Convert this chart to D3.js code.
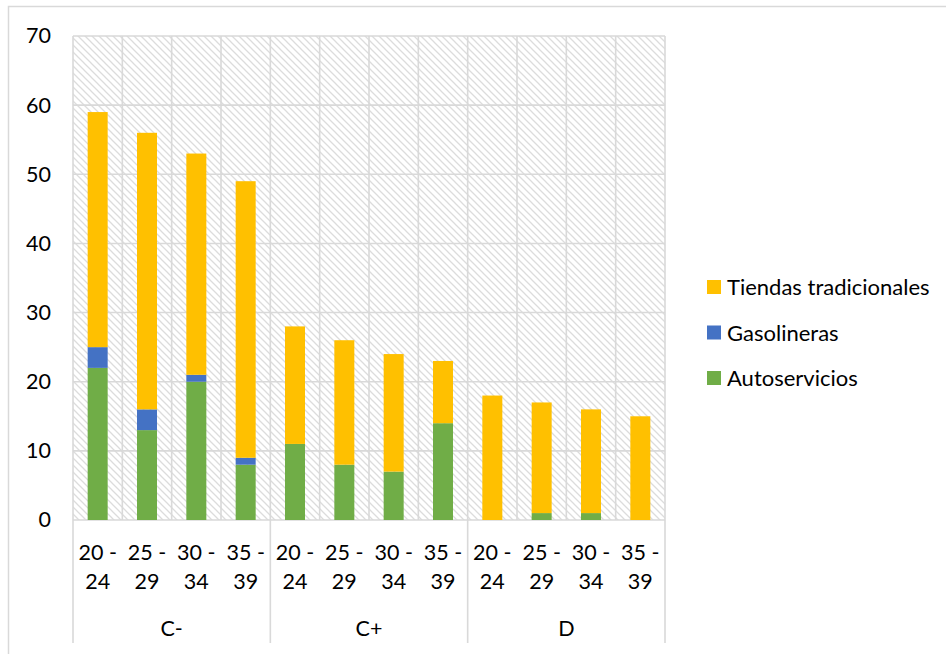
<!DOCTYPE html>
<meta charset="utf-8">
<style>
body { margin: 0; background: #fff; }
text { font-family: Lato, "Open Sans", sans-serif; fill: #000; }
.grid line { stroke: #d9d9d9; stroke-width: 1.6px; }
</style>
<body><svg width="946" height="654"></svg></body>
<script src="https://d3js.org/d3.v7.min.js"></script>
<script>

var groups = ["C-", "C+", "D"];
var ages = ["20 - 24", "25 - 29", "30 - 34", "35 - 39"];
var seriesNames = ["Autoservicios", "Gasolineras", "Tiendas tradicionales"];
var colors = ["#70AD47", "#4472C4", "#FFC000"];

// one value per (group, age) bar, in order C- 20..35, C+ 20..35, D 20..35
var autoservicios = [22, 13, 20, 8, 11, 8, 7, 14, 0, 1, 1, 0];
var gasolineras = [3, 3, 1, 1, 0, 0, 0, 0, 0, 0, 0, 0];
var tiendas = [34, 40, 32, 40, 17, 18, 17, 9, 18, 16, 15, 15];
var yTicks = [0, 10, 20, 30, 40, 50, 60, 70];

var svg = d3.select("svg");

var mLeft = 73, mRight = 665, mTop = 36, mBottom = 520;
var fs = 21.5;

var keys = [];
groups.forEach(function(g) { ages.forEach(function(a) { keys.push(g + "|" + a); }); });

var rows = keys.map(function(k, i) {
  return { key: k, Autoservicios: autoservicios[i], Gasolineras: gasolineras[i], "Tiendas tradicionales": tiendas[i] };
});

var x = d3.scaleBand().domain(keys).range([mLeft, mRight]);
var xg = d3.scaleBand().domain(groups).range([mLeft, mRight]);
var y = d3.scaleLinear().domain([0, 70]).range([mBottom, mTop]);

// outer frame
svg.append("rect")
    .attr("x", 8.5).attr("y", 6.5)
    .attr("width", 960).attr("height", 700)
    .attr("fill", "none").attr("stroke", "#d9d9d9").attr("stroke-width", 1.5);

// hatched background (downward diagonal)
var defs = svg.append("defs");
var pat = defs.append("pattern")
    .attr("id", "hatch")
    .attr("patternUnits", "userSpaceOnUse")
    .attr("width", 7).attr("height", 7);
pat.append("path")
    .attr("d", "M-1,-1 L8,8 M-1,6 L1,8 M6,-1 L8,1")
    .attr("stroke", "#dcdcdc").attr("stroke-width", 1.3);

svg.append("rect")
    .attr("x", mLeft).attr("y", mTop)
    .attr("width", mRight - mLeft).attr("height", mBottom - mTop)
    .attr("fill", "url(#hatch)");

// gridlines
var grid = svg.append("g").attr("class", "grid");
grid.selectAll(".h").data(yTicks).enter().append("line")
    .attr("x1", mLeft).attr("x2", mRight)
    .attr("y1", function(d) { return y(d); }).attr("y2", function(d) { return y(d); });
var vx = keys.map(function(k) { return x(k); }).concat([mRight]);
grid.selectAll(".v").data(vx).enter().append("line")
    .attr("x1", function(d) { return d; }).attr("x2", function(d) { return d; })
    .attr("y1", mTop).attr("y2", mBottom);

// group separators below the axis
var gx = groups.map(function(g) { return xg(g); }).concat([mRight]);
grid.selectAll(".gs").data(gx).enter().append("line")
    .attr("x1", function(d) { return d; }).attr("x2", function(d) { return d; })
    .attr("y1", mBottom).attr("y2", 643);

// y axis labels
var yAxis = svg.append("g")
    .attr("transform", "translate(" + (mLeft - 22) + ",0)")
    .call(d3.axisLeft(y).tickValues(yTicks).tickSize(0).tickPadding(0));
yAxis.select(".domain").remove();
yAxis.selectAll("text")
    .attr("font-size", fs).attr("font-family", "Lato, sans-serif")
    .attr("fill", "#000").attr("text-anchor", "end");

// stacked bars
var stack = d3.stack().keys(seriesNames)(rows);
var bw = 20;
svg.append("g").selectAll("g").data(stack).enter().append("g")
    .attr("fill", function(d, i) { return colors[i]; })
  .selectAll("rect").data(function(d) { return d; }).enter().append("rect")
    .attr("x", function(d) { return x(d.data.key) + x.bandwidth() / 2 - bw / 2; })
    .attr("width", bw)
    .attr("y", function(d) { return y(d[1]); })
    .attr("height", function(d) { return y(d[0]) - y(d[1]); });

// x labels (two lines)
var xl = svg.append("g").selectAll("text").data(keys).enter().append("text")
    .attr("text-anchor", "middle")
    .attr("font-size", fs);
xl.append("tspan")
    .attr("x", function(k) { return x(k) + x.bandwidth() / 2; })
    .attr("y", 560)
    .text(function(k) { return k.split("|")[1].split(" ")[0] + " -"; });
xl.append("tspan")
    .attr("x", function(k) { return x(k) + x.bandwidth() / 2; })
    .attr("y", 589)
    .text(function(k) { return k.split("|")[1].split(" ")[2]; });

svg.append("g").selectAll("text").data(groups).enter().append("text")
    .attr("text-anchor", "middle")
    .attr("font-size", fs)
    .attr("x", function(g) { return xg(g) + xg.bandwidth() / 2; })
    .attr("y", 636)
    .text(function(g) { return g; });

// legend
var legendNames = seriesNames.slice().reverse();
var legendColors = colors.slice().reverse();
var lg = svg.append("g").selectAll("g").data(legendNames).enter().append("g")
    .attr("transform", function(d, i) { return "translate(707," + (287 + i * 45.5) + ")"; });
lg.append("rect")
    .attr("x", 0).attr("y", -7).attr("width", 14).attr("height", 14)
    .attr("fill", function(d, i) { return legendColors[i]; });
lg.append("text")
    .attr("x", 20).attr("y", 8)
    .attr("font-size", 22)
    .text(function(d) { return d; });

</script>
